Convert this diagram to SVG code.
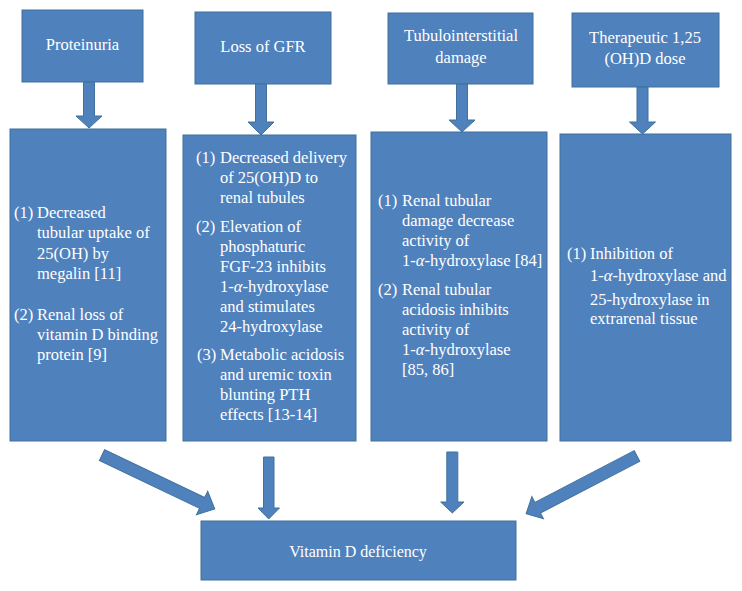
<svg xmlns="http://www.w3.org/2000/svg" width="742" height="591" viewBox="0 0 742 591">
<style>
.box{fill:#4f81bd;stroke:#41719c;stroke-width:1}
.arr{fill:#4f81bd;stroke:#41719c;stroke-width:1}
text{font-family:"Liberation Serif","Times New Roman",serif;font-size:16.5px;fill:#ffffff}
.c{text-anchor:middle}
.a{font-style:italic}
</style>
<rect width="742" height="591" fill="#ffffff"/>
<g id="proteinuria">
<rect class="box" x="22" y="10" width="121" height="72"/>
<text class="c" x="82.5" y="50">Proteinuria</text>
</g>
<g id="loss-gfr">
<rect class="box" x="195" y="12" width="136" height="72"/>
<text class="c" x="263" y="52">Loss of GFR</text>
</g>
<g id="tubulo">
<rect class="box" x="388" y="13" width="145" height="71"/>
<text class="c" x="461" y="41">Tubulointerstitial</text>
<text class="c" x="461" y="63">damage</text>
</g>
<g id="therapeutic">
<rect class="box" x="572" y="13" width="147" height="74"/>
<text class="c" x="645" y="43">Therapeutic 1,25</text>
<text class="c" x="645" y="64">(OH)D dose</text>
</g>
<g id="mech-proteinuria">
<rect class="box" x="10" y="129" width="156" height="312"/>
<text x="14" y="218">(1)</text><text x="37" y="218">Decreased</text>
<text x="37" y="238">tubular uptake of</text>
<text x="37" y="259">25(OH) by</text>
<text x="37" y="279">megalin [11]</text>
<text x="14" y="320">(2)</text><text x="37" y="320">Renal loss of</text>
<text x="37" y="340">vitamin D binding</text>
<text x="37" y="360">protein [9]</text>
</g>
<g id="mech-gfr">
<rect class="box" x="183" y="135" width="173" height="306"/>
<text x="196" y="163">(1)</text><text x="220" y="163">Decreased delivery</text>
<text x="220" y="183">of 25(OH)D to</text>
<text x="220" y="203">renal tubules</text>
<text x="196" y="232">(2)</text><text x="220" y="232">Elevation of</text>
<text x="220" y="252">phosphaturic</text>
<text x="220" y="272">FGF-23 inhibits</text>
<text x="220" y="292">1-<tspan class="a">α</tspan>-hydroxylase</text>
<text x="220" y="312">and stimulates</text>
<text x="220" y="332">24-hydroxylase</text>
<text x="197" y="360">(3)</text><text x="220" y="360">Metabolic acidosis</text>
<text x="220" y="380">and uremic toxin</text>
<text x="220" y="400">blunting PTH</text>
<text x="220" y="420">effects [13-14]</text>
</g>
<g id="mech-tubulo">
<rect class="box" x="371" y="132" width="176" height="309"/>
<text x="378" y="206">(1)</text><text x="402" y="206">Renal tubular</text>
<text x="402" y="226">damage decrease</text>
<text x="402" y="246">activity of</text>
<text x="402" y="266">1-<tspan class="a">α</tspan>-hydroxylase [84]</text>
<text x="378" y="295">(2)</text><text x="402" y="295">Renal tubular</text>
<text x="402" y="315">acidosis inhibits</text>
<text x="402" y="335">activity of</text>
<text x="402" y="355">1-<tspan class="a">α</tspan>-hydroxylase</text>
<text x="402" y="375">[85, 86]</text>
</g>
<g id="mech-therapeutic">
<rect class="box" x="560" y="134" width="171" height="307"/>
<text x="567" y="259">(1)</text><text x="590" y="259">Inhibition of</text>
<text x="590" y="281">1-<tspan class="a">α</tspan>-hydroxylase and</text>
<text x="590" y="305">25-hydroxylase in</text>
<text x="590" y="324">extrarenal tissue</text>
</g>
<g id="vitd">
<rect class="box" x="201" y="521" width="315" height="59"/>
<text class="c" x="358" y="557" style="font-size:16px">Vitamin D deficiency</text>
</g>
<g id="connectors">
<polygon class="arr" points="83.5,82 94.5,82 94.5,116 102,116 89,128 76,116 83.5,116"/>
<polygon class="arr" points="255.5,84 266.5,84 266.5,122 274,122 261,135 248,122 255.5,122"/>
<polygon class="arr" points="456.5,84 467.5,84 467.5,120 475,120 462,132 449,120 456.5,120"/>
<polygon class="arr" points="637,87 648,87 648,122 655.5,122 642.5,134 629.5,122 637,122"/>
<polygon class="arr" points="263.5,457 274,457 274,508 279.5,508 268.7,519 258,508 263.5,508"/>
<polygon class="arr" points="446.8,452 457.8,452 457.8,502 464,502 452.3,513 440.7,502 446.8,502"/>
<polygon class="arr" transform="translate(102,455) rotate(25.6)" points="0,-6 111,-6 111,-13 125,0 111,13 111,6 0,6"/>
<polygon class="arr" transform="translate(637,456) rotate(152.5)" points="0,-6 112,-6 112,-12.5 125,0 112,12.5 112,6 0,6"/>
</g>
</svg>
